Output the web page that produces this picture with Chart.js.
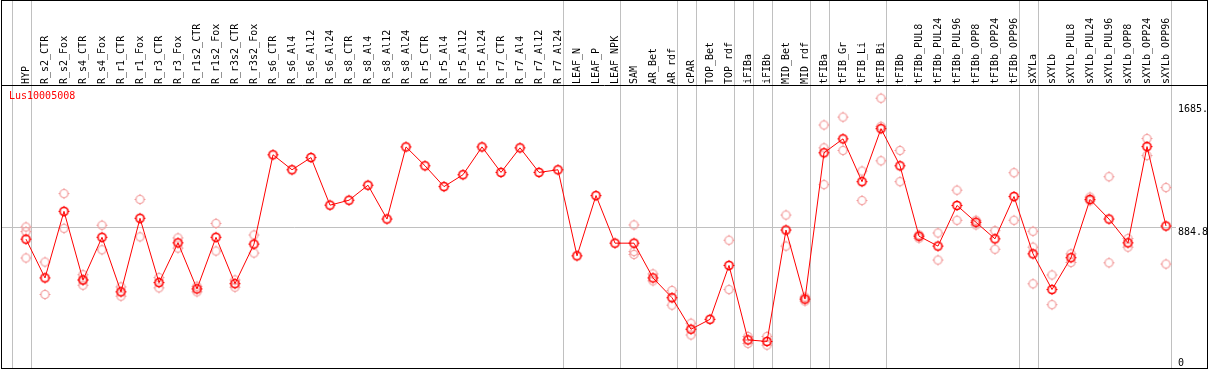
<!DOCTYPE html>
<html>
<head>
<meta charset="utf-8">
<script src="https://cdn.jsdelivr.net/npm/chart.js@4/dist/chart.umd.min.js"></script>
<style>
  html, body { margin: 0; padding: 0; background: #ffffff; }
  #wrap { position: relative; width: 1209px; height: 370px; }
  canvas { display: block; }
</style>
</head>
<body>
<div id="wrap"><canvas id="c" width="1209" height="370"></canvas></div>
<script>
// ---------------- data ----------------
const geneId = "Lus10005008";

const categories = [
  "HYP","R_s2_CTR","R_s2_Fox","R_s4_CTR","R_s4_Fox","R_r1_CTR","R_r1_Fox","R_r3_CTR","R_r3_Fox",
  "R_r1s2_CTR","R_r1s2_Fox","R_r3s2_CTR","R_r3s2_Fox",
  "R_s6_CTR","R_s6_Al4","R_s6_Al12","R_s6_Al24",
  "R_s8_CTR","R_s8_Al4","R_s8_Al12","R_s8_Al24",
  "R_r5_CTR","R_r5_Al4","R_r5_Al12","R_r5_Al24",
  "R_r7_CTR","R_r7_Al4","R_r7_Al12","R_r7_Al24",
  "LEAF_N","LEAF_P","LEAF_NPK","SAM","AR_Bet","AR_rdf","cPAR","TOP_Bet","TOP_rdf",
  "iFIBa","iFIBb","MID_Bet","MID_rdf","tFIBa","tFIB_Gr","tFIB_Li","tFIB_Bi","tFIBb",
  "tFIBb_PUL8","tFIBb_PUL24","tFIBb_PUL96","tFIBb_OPP8","tFIBb_OPP24","tFIBb_OPP96",
  "sXYLa","sXYLb","sXYLb_PUL8","sXYLb_PUL24","sXYLb_PUL96","sXYLb_OPP8","sXYLb_OPP24","sXYLb_OPP96"
];

const meanValues = [
  808, 557, 988, 544, 820, 467, 943, 527, 784,
  486, 820, 520, 776,
  1354, 1257, 1336, 1028,
  1060, 1157, 938, 1405,
  1283, 1148, 1225, 1405,
  1240, 1399, 1240, 1257,
  700, 1090, 782, 782, 557, 429, 225, 289, 638,
  156, 146, 867, 420, 1367, 1457, 1180, 1523, 1283,
  827, 763, 1026, 917, 810, 1084,
  713, 482, 688, 1065, 938, 784, 1407, 893
];

const replicateValues = [
  [887, 857, 686], [660, 450], [1103, 878], [578, 544, 510], [898, 739], [499, 439], [1065, 823], [559, 493], [816, 750],
  [503, 467], [910, 731], [544, 497], [835, 718],
  [], [], [], [],
  [], [], [], [],
  [], [], [], [],
  [], [], [], [],
  [], [], [], [900, 728, 709], [583, 538], [476, 381], [264, 188], [], [801, 482],
  [178, 133], [178, 122], [964, 763], [433, 407], [1547, 1399, 1161], [1598, 1382], [1249, 1058], [1720, 1538, 1315], [1382, 1180],
  [835, 814], [848, 673], [1125, 930], [930, 900], [863, 743], [1238, 930],
  [859, 756, 519], [576, 384], [713, 657], [1080, 1056], [1212, 655], [812, 756], [1459, 1349], [1142, 647]
];

// right-side value labels
const yTickValues = [0, 884.8, 1685];
const yTickLabels = ["0", "884.8", "1685."];
const referenceLineValue = 884.8;
const yMax = 1805.6;

// indices after which a group separator line is drawn (-1 = before the first)
const groupSeparators = [-1, 0, 28, 31, 34, 35, 37, 38, 39, 41, 42, 45, 52, 53, 60];

// ---------------- markers ----------------
function makeMarker(color, lw) {
  const s = 15, c = document.createElement('canvas');
  c.width = s; c.height = s;
  const g = c.getContext('2d');
  g.strokeStyle = color; g.lineWidth = lw;
  g.beginPath(); g.arc(7.5, 7.5, 4, 0, Math.PI * 2); g.stroke();
  g.lineWidth = 1;
  g.beginPath();
  g.moveTo(7.5, 2); g.lineTo(7.5, 3.5);
  g.moveTo(7.5, 11.5); g.lineTo(7.5, 13);
  g.moveTo(2, 7.5); g.lineTo(3.5, 7.5);
  g.moveTo(11.5, 7.5); g.lineTo(13, 7.5);
  g.stroke();
  return c;
}
const meanMarker = makeMarker('#ff0000', 1.6);
const repMarker = makeMarker('#f29a9a', 1.2);

const repPoints = [];
replicateValues.forEach((arr, i) => arr.forEach(v => repPoints.push({ x: categories[i], y: v })));

// ---------------- frame plugin ----------------
const framePlugin = {
  id: 'frame',
  beforeDatasetsDraw(chart) {
    const ctx = chart.ctx, xs = chart.scales.x, ys = chart.scales.y;
    const H = chart.height;
    ctx.save();
    ctx.strokeStyle = '#c0c0c0'; ctx.lineWidth = 1;
    const step = xs.getPixelForValue(1) - xs.getPixelForValue(0);
    groupSeparators.forEach(i => {
      const px = Math.round(xs.getPixelForValue(0) + i * step + 4.5) + 0.5;
      ctx.beginPath(); ctx.moveTo(px, 0); ctx.lineTo(px, H - 1); ctx.stroke();
    });
    const ry = Math.round(ys.getPixelForValue(referenceLineValue)) + 0.5;
    ctx.beginPath(); ctx.moveTo(1, ry); ctx.lineTo(1176, ry); ctx.stroke();
    ctx.restore();
  },
  afterDraw(chart) {
    const ctx = chart.ctx, ys = chart.scales.y;
    const W = chart.width, H = chart.height;
    ctx.save();
    ctx.strokeStyle = '#000000'; ctx.lineWidth = 1;
    ctx.strokeRect(1.5, 0.5, W - 3, H - 2);
    ctx.beginPath(); ctx.moveTo(1, 85.5); ctx.lineTo(W - 1, 85.5); ctx.stroke();
    ctx.font = '10px "DejaVu Sans Mono", monospace';
    ctx.fillStyle = '#000000';
    ctx.textBaseline = 'top'; ctx.textAlign = 'left';
    yTickValues.forEach((v, i) => {
      let ty = Math.round(ys.getPixelForValue(v));
      if (ty > H - 12) ty = H - 12;
      ctx.fillText(yTickLabels[i], 1178, ty);
    });
    ctx.fillStyle = '#ff0000';
    ctx.fillText(geneId, 9, 91);
    ctx.restore();
  }
};

new Chart(document.getElementById('c'), {
  type: 'line',
  data: {
    labels: categories,
    datasets: [
      {
        label: 'mean',
        data: meanValues,
        borderColor: '#ff0000',
        borderWidth: 1,
        pointStyle: meanMarker,
        pointRadius: 5,
        tension: 0,
        order: 1,
        clip: false
      },
      {
        label: 'replicates',
        data: repPoints,
        showLine: false,
        pointStyle: repMarker,
        pointRadius: 5,
        order: 2,
        clip: false
      }
    ]
  },
  options: {
    responsive: false,
    animation: false,
    devicePixelRatio: 1,
    layout: { padding: { left: 26, right: 43, top: 0, bottom: 4 } },
    plugins: { legend: { display: false }, tooltip: { enabled: false }, title: { display: false } },
    scales: {
      x: {
        type: 'category',
        position: 'top',
        offset: false,
        grid: { display: false },
        border: { display: false },
        ticks: {
          autoSkip: false,
          minRotation: 90,
          maxRotation: 90,
          padding: -7,
          labelOffset: 12,
          color: '#000000',
          font: { family: '"DejaVu Sans Mono", monospace', size: 10 }
        },
        afterFit(scale) { scale.height = 85; }
      },
      y: {
        display: false,
        min: 0,
        max: yMax
      }
    }
  },
  plugins: [framePlugin]
});
</script>
</body>
</html>
